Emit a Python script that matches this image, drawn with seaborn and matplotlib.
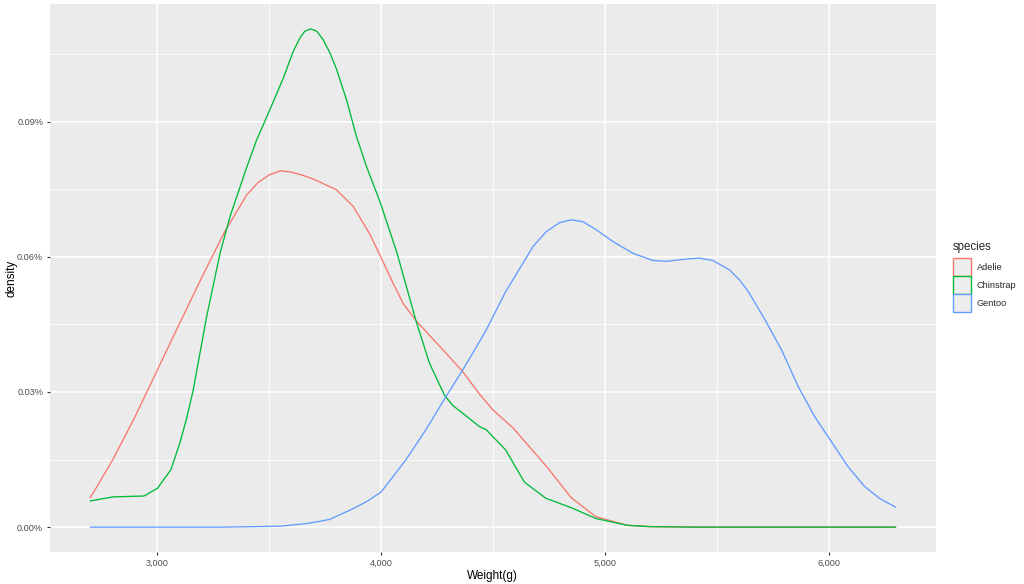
import matplotlib
matplotlib.use("Agg")
import matplotlib.pyplot as plt
from matplotlib.patches import Patch
from matplotlib.ticker import FuncFormatter, MultipleLocator
import seaborn as sns
import pandas as pd

# ---- data (density shown in percent, as on the axis) ----
adelie_x = [2700, 2800, 2900, 3000, 3100, 3200, 3300, 3400, 3450, 3500, 3550, 3600,
            3650, 3700, 3800, 3875, 3950, 4000, 4050, 4100, 4160, 4290, 4365, 4440,
            4500, 4590, 4740, 4850, 4960, 5100, 5200, 5400, 6300]
adelie_y = [0.0065, 0.0149, 0.0245, 0.0349, 0.0453, 0.0556, 0.0655, 0.0738, 0.0765,
            0.0782, 0.0791, 0.0788, 0.0781, 0.0772, 0.0749, 0.0712, 0.0650, 0.0598,
            0.0545, 0.0495, 0.0456, 0.0386, 0.0345, 0.0295, 0.0260, 0.0220, 0.0134,
            0.0065, 0.0023, 0.0004, 0.0001, 0.0, 0.0]

chinstrap_x = [2700, 2800, 2940, 3000, 3060, 3100, 3130, 3160, 3220, 3280, 3325, 3400,
               3444, 3503, 3563, 3607, 3637, 3659, 3685, 3712, 3741, 3771, 3801, 3845,
               3890, 3935, 3995, 4070, 4157, 4216, 4283, 4320, 4364, 4440, 4470, 4557,
               4640, 4736, 4850, 4960, 5100, 5200, 5400, 6300]
chinstrap_y = [0.0058, 0.0067, 0.0069, 0.0086, 0.0127, 0.0186, 0.0240, 0.0304, 0.0467,
               0.0608, 0.0690, 0.0800, 0.0860, 0.0927, 0.0997, 0.1056, 0.1086, 0.1101,
               0.1106, 0.1101, 0.1082, 0.1053, 0.1016, 0.0949, 0.0867, 0.0800, 0.0722,
               0.0610, 0.0456, 0.0364, 0.0293, 0.0270, 0.0253, 0.0223, 0.0216, 0.0171,
               0.0100, 0.0064, 0.0043, 0.0019, 0.0004, 0.0001, 0.0, 0.0]

gentoo_x = [2700, 3300, 3550, 3670, 3770, 3875, 3940, 4000, 4050, 4110, 4200, 4290,
            4365, 4440, 4470, 4557, 4589, 4634, 4679, 4738, 4798, 4850, 4902, 4962,
            5036, 5125, 5214, 5274, 5363, 5423, 5482, 5557, 5601, 5641, 5716, 5790,
            5864, 5938, 6012, 6087, 6161, 6230, 6300]
gentoo_y = [0.0, 0.0, 0.0002, 0.0008, 0.0017, 0.0041, 0.0058, 0.0078, 0.0110, 0.0149,
            0.0216, 0.0290, 0.0349, 0.0412, 0.0438, 0.0523, 0.0549, 0.0586, 0.0623,
            0.0656, 0.0676, 0.0682, 0.0678, 0.0660, 0.0634, 0.0608, 0.0592, 0.0590,
            0.0595, 0.0597, 0.0592, 0.0571, 0.0549, 0.0523, 0.0460, 0.0393, 0.0312,
            0.0245, 0.0190, 0.0134, 0.0090, 0.0063, 0.0044]

species = ["Adelie", "Chinstrap", "Gentoo"]
colors = ["#F8766D", "#00BA38", "#619CFF"]
x_ticks = [3000, 4000, 5000, 6000]
y_ticks = [0.00, 0.03, 0.06, 0.09]

df = pd.concat([
    pd.DataFrame({"weight": adelie_x, "density": adelie_y, "species": "Adelie"}),
    pd.DataFrame({"weight": chinstrap_x, "density": chinstrap_y, "species": "Chinstrap"}),
    pd.DataFrame({"weight": gentoo_x, "density": gentoo_y, "species": "Gentoo"}),
], ignore_index=True)

sns.set_theme(style="darkgrid")
plt.rcParams["font.family"] = ["Liberation Sans", "DejaVu Sans"]

fig = plt.figure(figsize=(10.24, 5.84), dpi=100)
ax = fig.add_axes([50 / 1024, 1 - 552 / 584, (936 - 50) / 1024, (552 - 4) / 584])
ax.set_facecolor("#EBEBEB")

sns.lineplot(data=df, x="weight", y="density", hue="species", hue_order=species,
             palette=colors, linewidth=0.95, ax=ax, legend=False, sort=False,
             estimator=None)

# ggplot-like expansion
xmin, xmax = 2700, 6300
xr = xmax - xmin
ax.set_xlim(xmin - 0.05 * xr, xmax + 0.05 * xr)
ymax = max(chinstrap_y)
ax.set_ylim(-0.05 * ymax, ymax * 1.05)

ax.set_xticks(x_ticks)
ax.xaxis.set_minor_locator(MultipleLocator(500))
ax.set_yticks(y_ticks)
ax.yaxis.set_minor_locator(MultipleLocator(0.015))
ax.xaxis.set_major_formatter(FuncFormatter(lambda v, p: f"{v:,.0f}"))
ax.yaxis.set_major_formatter(FuncFormatter(lambda v, p: f"{v:.2f}%"))

ax.grid(which="major", color="white", linewidth=1.1)
ax.grid(which="minor", color="white", linewidth=0.55)
ax.set_axisbelow(True)
for s in ax.spines.values():
    s.set_visible(False)

ax.tick_params(axis="both", which="major", length=2.4, width=0.8, color="#333333",
               labelsize=6.6, labelcolor="#4D4D4D", pad=2.5, bottom=True, left=True)
ax.tick_params(axis="both", which="minor", length=0)

ax.set_xlabel("Weight(g)", fontsize=8.5, color="black")
ax.set_ylabel("density", fontsize=8.5, color="black")
ax.xaxis.set_label_coords((492 - 50) / 886, -(576 - 552) / 548)
ax.yaxis.set_label_coords(-(50 - 12) / 886, 0.5)
ax.xaxis.label.set_va("center")
ax.yaxis.label.set_va("center")

handles = [Patch(facecolor="#EEEEEE", edgecolor=c, linewidth=1.0, label=s)
           for s, c in zip(species, colors)]
leg = fig.legend(handles=handles, title="species", loc="upper left",
                 bbox_to_anchor=(953 / 1024, 1 - 241 / 584), frameon=False,
                 fontsize=6.6, title_fontsize=8.3, handlelength=1.95,
                 handleheight=2.65, handletextpad=0.65, labelspacing=0.0,
                 borderaxespad=0, borderpad=0)
leg._legend_box.align = "left"
leg._legend_box.sep = 3.5

fig.savefig("out.png", dpi=100, facecolor="white")
